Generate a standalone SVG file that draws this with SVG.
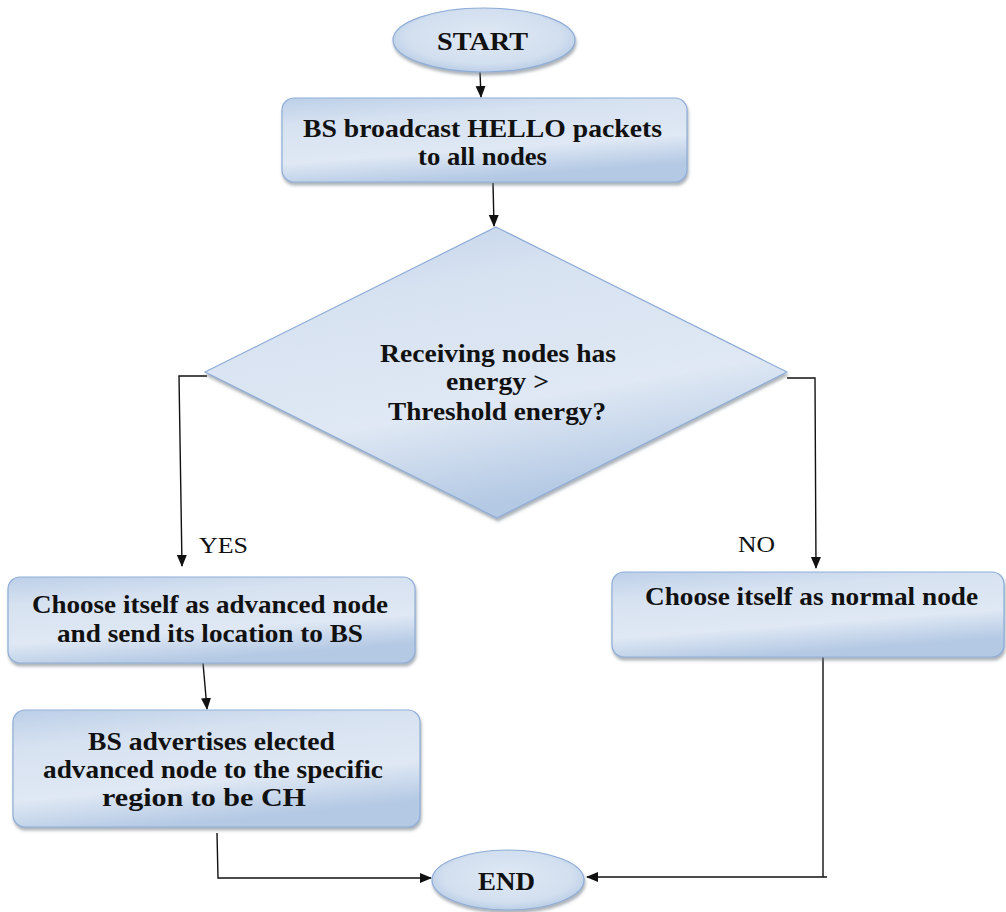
<svg xmlns="http://www.w3.org/2000/svg" width="1006" height="912" viewBox="0 0 1006 912">
  <style>
    .shape { fill: url(#bevel); stroke: #8fadd8; stroke-width: 1.2; filter: url(#shadow); }
    .oval { fill: url(#ovalFill); stroke: #8fadd8; stroke-width: 1.2; filter: url(#shadow); }
    .lbl { font-family: "Liberation Serif", "Times New Roman", serif; font-weight: bold; font-size: 26px; fill: #111; }
    .tag { font-family: "Liberation Serif", "Times New Roman", serif; font-size: 24px; fill: #111; }
    .wire { fill: none; stroke: #111; stroke-width: 1.4; }
  </style>
  <defs>
    <linearGradient id="bevel" x1="0" y1="0" x2="0.35" y2="1">
      <stop offset="0" stop-color="#bccfe8"/>
      <stop offset="0.3" stop-color="#d7e2f1"/>
      <stop offset="0.7" stop-color="#dfe8f4"/>
      <stop offset="1" stop-color="#b4c9e4"/>
    </linearGradient>
    <radialGradient id="ovalFill" cx="0.5" cy="0.45" r="0.6">
      <stop offset="0" stop-color="#e0e9f5"/>
      <stop offset="0.7" stop-color="#d2dfef"/>
      <stop offset="1" stop-color="#b3c8e3"/>
    </radialGradient>
    <filter id="shadow" x="-10%" y="-10%" width="125%" height="130%">
      <feDropShadow dx="1" dy="3" stdDeviation="1.5" flood-color="#6b7480" flood-opacity="0.55"/>
    </filter>
    <marker id="arrow" markerUnits="userSpaceOnUse" markerWidth="12" markerHeight="12" viewBox="0 0 12 12" refX="11" refY="6" orient="auto">
      <path d="M0,1 L12,6 L0,11 Z" fill="#111"/>
    </marker>
  </defs>

  <!-- connectors -->
  <g id="connectors">
    <path class="wire" d="M480,72 L481,97" marker-end="url(#arrow)"/>
    <path class="wire" d="M493,183 L494,226" marker-end="url(#arrow)"/>
    <path class="wire" d="M207,376 H179 L182,566" marker-end="url(#arrow)"/>
    <path class="wire" d="M787,378 H815 L816,568" marker-end="url(#arrow)"/>
    <path class="wire" d="M203,663 L207,709" marker-end="url(#arrow)"/>
    <path class="wire" d="M217,833 L218,878 H431" marker-end="url(#arrow)"/>
    <path class="wire" d="M823,657 V877 H827 M827,877 H587" marker-end="url(#arrow)"/>
    <text class="tag" x="199" y="553" textLength="49" lengthAdjust="spacingAndGlyphs">YES</text>
    <text class="tag" x="738" y="552" textLength="37" lengthAdjust="spacingAndGlyphs">NO</text>
  </g>

  <g id="start">
    <ellipse class="oval" cx="484" cy="40" rx="91" ry="32"/>
    <text class="lbl" x="437" y="50" textLength="91" lengthAdjust="spacingAndGlyphs">START</text>
  </g>

  <g id="broadcast">
    <rect class="shape" x="282" y="98" width="405" height="84" rx="12"/>
    <text class="lbl" x="303" y="137" textLength="359" lengthAdjust="spacingAndGlyphs">BS broadcast HELLO packets</text>
    <text class="lbl" x="418" y="165" textLength="129" lengthAdjust="spacingAndGlyphs">to all nodes</text>
  </g>

  <g id="decision">
    <polygon class="shape" points="496,227 787,372 497,518 205,372"/>
    <text class="lbl" x="380" y="362" textLength="236" lengthAdjust="spacingAndGlyphs">Receiving nodes has</text>
    <text class="lbl" x="446" y="390" textLength="103" lengthAdjust="spacingAndGlyphs">energy &gt;</text>
    <text class="lbl" x="388" y="420" textLength="218" lengthAdjust="spacingAndGlyphs">Threshold energy?</text>
  </g>

  <g id="advanced">
    <rect class="shape" x="8" y="577" width="407" height="86" rx="12"/>
    <text class="lbl" x="32" y="613" textLength="356" lengthAdjust="spacingAndGlyphs">Choose itself as advanced node</text>
    <text class="lbl" x="57" y="642" textLength="306" lengthAdjust="spacingAndGlyphs">and send its location to BS</text>
  </g>

  <g id="normal">
    <rect class="shape" x="612" y="572" width="392" height="85" rx="12"/>
    <text class="lbl" x="645" y="605" textLength="333" lengthAdjust="spacingAndGlyphs">Choose itself as normal node</text>
  </g>

  <g id="advertise">
    <rect class="shape" x="13" y="710" width="407" height="117" rx="12"/>
    <text class="lbl" x="88" y="750" textLength="247" lengthAdjust="spacingAndGlyphs">BS advertises elected</text>
    <text class="lbl" x="43" y="778" textLength="340" lengthAdjust="spacingAndGlyphs">advanced node to the specific</text>
    <text class="lbl" x="102" y="806" textLength="204" lengthAdjust="spacingAndGlyphs">region to be CH</text>
  </g>

  <g id="end">
    <ellipse class="oval" cx="508" cy="880" rx="76" ry="30"/>
    <text class="lbl" x="478" y="890" textLength="57" lengthAdjust="spacingAndGlyphs">END</text>
  </g>
</svg>
